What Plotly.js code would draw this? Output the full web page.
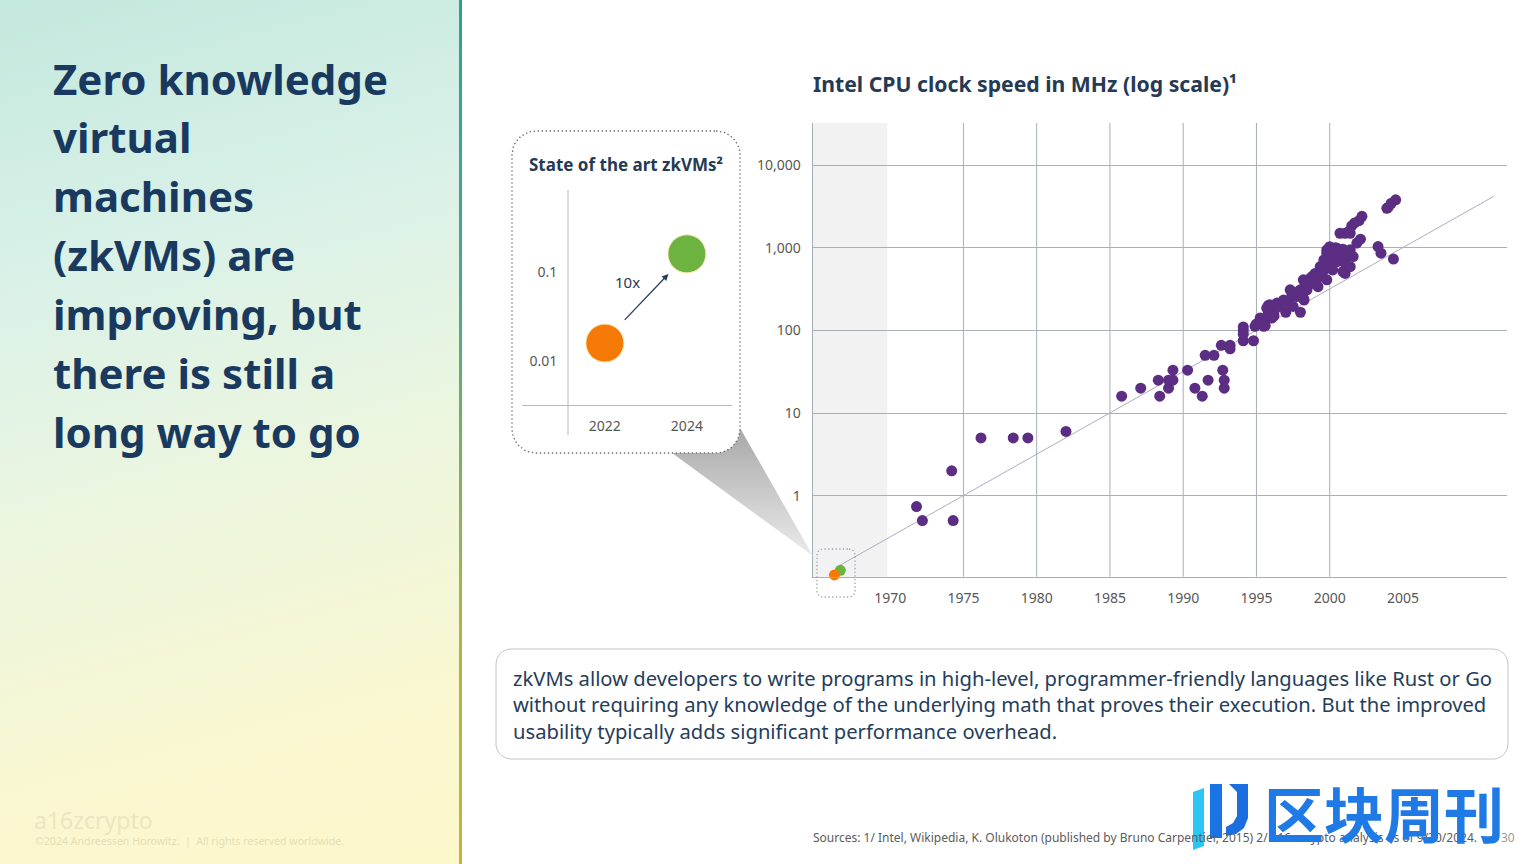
<!DOCTYPE html>
<html><head><meta charset="utf-8">
<script src="https://cdn.plot.ly/plotly-3.0.1.min.js"></script>
<style>
html,body{margin:0;padding:0;width:1536px;height:864px;overflow:hidden;background:#fff;}
#bgleft{position:absolute;left:0;top:0;width:459px;height:864px;background:linear-gradient(165deg,#c3e8dd 0%,#d9f1e8 28%,#ecf6df 55%,#f9f7d2 80%,#fdf8cb 100%);}
#divider{position:absolute;left:459px;top:0;width:3px;height:864px;background:linear-gradient(180deg,#2f9f93 0%,#4faa80 35%,#a2b84a 70%,#c4b53a 100%);}
#chart{position:absolute;left:0;top:0;width:1536px;height:864px;}
</style></head><body>
<div id="bgleft"></div><div id="divider"></div><div id="chart"></div>
<script>
const W = 1536, H = 864;
const FONT = 'Noto Sans, Open Sans, sans-serif';

// ---------- text ----------
const titleLines = ["Zero knowledge", "virtual", "machines", "(zkVMs) are", "improving, but", "there is still a", "long way to go"];
const chartTitle = "Intel CPU clock speed in MHz (log scale)¹";
const insetTitle = "State of the art zkVMs²";
const bodyLines = [
  "zkVMs allow developers to write programs in high-level, programmer-friendly languages like Rust or Go",
  "without requiring any knowledge of the underlying math that proves their execution. But the improved",
  "usability typically adds significant performance overhead."
];
const sourcesText = "Sources: 1/ Intel, Wikipedia, K. Olukoton (published by Bruno Carpentier, 2015) 2/ a16z crypto analysis as of 9/30/2024.";
const pageNumber = "30";
const logoText = "a16zcrypto";
const copyrightText = "©2024 Andreessen Horowitz.  |  All rights reserved worldwide.";
const watermarkText = "区块周刊";

// ---------- main chart data ----------
const cpuYear = [1971.8,1972.2,1974.2,1974.3,1976.2,1978.4,1979.4,1982.0,
  1985.8,1987.1,1988.3,1988.4,1989.0,1989.0,1989.3,1989.3,
  1990.3,1990.8,1991.3,1991.5,1991.7,1992.1,1992.6,1992.7,1992.8,1992.8,
  1993.2,1993.2,1994.1,1994.1,1994.1,1994.1,1994.8,
  1994.9,1995.0,1995.25,1995.4,1995.5,1995.6,1995.7,1995.8,1995.8,1995.8,1995.9,
  1996.05,1996.2,1996.2,1996.4,1996.4,1996.6,1996.85,
  1997.0,1997.0,1997.1,1997.3,1997.4,1997.5,1997.5,1997.75,1997.9,
  1998.0,1998.0,1998.1,1998.2,1998.2,1998.25,1998.3,1998.4,1998.45,1998.55,1998.6,1998.7,1998.8,1998.9,
  1999.0,1999.1,1999.2,1999.2,1999.35,1999.35,1999.5,1999.5,1999.6,1999.6,1999.8,1999.8,1999.8,1999.8,1999.9,
  2000.0,2000.0,2000.0,2000.1,2000.2,2000.3,2000.4,2000.5,2000.5,2000.6,2000.7,2000.7,2000.9,2000.9,
  2001.05,2001.05,2001.05,2001.2,2001.3,2001.4,2001.4,2001.4,2001.5,2001.6,2001.7,2001.85,
  2002.0,2002.1,2002.2,2003.3,2003.5,2003.9,2004.0,2004.2,2004.35,2004.5];
const cpuMHz = [0.74,0.5,2,0.5,5,5,5,6,
  16,20,25,16,20,25,25,33,
  33,20,16,50,25,50,66,33,25,20,
  66,60,75,90,100,110,75,
  112,120,141,128,112,114,186,200,160,150,204,
  141,150,169,214,200,195,233,
  166,200,204,310,257,266,195,257,300,
  166,310,283,246,410,233,338,366,310,355,400,430,450,372,
  490,410,338,450,467,592,500,600,713,550,410,566,860,944,733,
  1030,650,933,866,540,783,1000,990,680,900,820,1500,960,515,
  650,1500,490,783,1570,945,1500,590,1840,783,2000,1140,
  2130,1270,2400,1035,860,3000,3100,3460,730,3800];
const trendYear = [1966.6, 2011.2];
const trendMHz = [0.145, 4200];
const zkMainYear = [1966.6, 1966.2];   // green (2024), orange (2022)
const zkMainMHz = [0.125, 0.11];
const xTickVals = [1970, 1975, 1980, 1985, 1990, 1995, 2000, 2005];
const gridYears = [1975, 1980, 1985, 1990, 1995, 2000];
const yTickVals = [1, 10, 100, 1000, 10000];
const yTickText = ["1", "10", "100", "1,000", "10,000"];

// ---------- inset data ----------
const zkYear = [2022, 2024];
const zkMHz = [0.016, 0.16];
const zkColors = ["#f57a05", "#6db33f"];
const insetTickVals = [0.01, 0.1];
const insetTickText = ["0.01", "0.1"];
const arrowLabel = "10x";

// ---------- helpers ----------
const px = x => x / W;
const py = y => 1 - y / H;
function rr(x0, y0, x1, y1, r) {
  const xs = [], ys = [], n = 10;
  const c = [[x1 - r, y0 + r, -90, 0], [x1 - r, y1 - r, 0, 90], [x0 + r, y1 - r, 90, 180], [x0 + r, y0 + r, 180, 270]];
  for (const [cx, cy, a0, a1] of c) {
    for (let i = 0; i <= n; i++) {
      const a = (a0 + (a1 - a0) * i / n) * Math.PI / 180;
      xs.push(cx + r * Math.cos(a)); ys.push(cy + r * Math.sin(a));
    }
  }
  xs.push(xs[0]); ys.push(ys[0]);
  return {xs, ys};
}
const inset = rr(512, 131, 740, 453, 24);
const tbox = rr(496, 649, 1508, 759, 15);
const zbox = rr(817, 549, 855, 597, 6);

const traces = [
  {x: trendYear, y: trendMHz, xaxis: 'x', yaxis: 'y', mode: 'lines', line: {color: '#b1abc2', width: 1}, hoverinfo: 'skip'},
  {x: cpuYear, y: cpuMHz, xaxis: 'x', yaxis: 'y', mode: 'markers', marker: {size: 11, color: '#5b2d83'}},
  {x: zkMainYear, y: zkMainMHz, xaxis: 'x', yaxis: 'y', mode: 'markers', cliponaxis: false,
   marker: {size: 11, color: [zkColors[1], zkColors[0]]}},
  // callout wedge
  {x: [672, 716, 740, 813, 672], y: [453, 429, 428, 556, 453], xaxis: 'x2', yaxis: 'y2', mode: 'none', fill: 'toself',
   fillcolor: '#c8c8c8',
   fillgradient: {type: 'vertical', start: 428, stop: 556, colorscale: [[0, '#a8a8a8'], [1, '#ebebeb']]}, hoverinfo: 'skip'},
  // inset box
  {x: inset.xs, y: inset.ys, xaxis: 'x2', yaxis: 'y2', mode: 'lines', fill: 'toself', fillcolor: '#ffffff',
   line: {color: '#6f6f6f', width: 1.4, dash: '1.4px,2.6px'}, hoverinfo: 'skip'},
  // text box
  {x: tbox.xs, y: tbox.ys, xaxis: 'x2', yaxis: 'y2', mode: 'lines', line: {color: '#c4c4c4', width: 1}, hoverinfo: 'skip'},
  // small zk box on main chart
  {x: zbox.xs, y: zbox.ys, xaxis: 'x2', yaxis: 'y2', mode: 'lines', line: {color: '#9aa0b4', width: 1.3, dash: '1.3px,2.4px'}, hoverinfo: 'skip'},
  // watermark icon
  {x: [1193, 1204, 1204, 1193, 1193], y: [792, 788, 846, 850, 792], xaxis: 'x2', yaxis: 'y2', mode: 'none', fill: 'toself', fillcolor: '#2cc6f2', hoverinfo: 'skip'},
  {x: [1210, 1222, 1222, 1210, 1210], y: [784, 784, 838, 838, 784], xaxis: 'x2', yaxis: 'y2', mode: 'none', fill: 'toself', fillcolor: '#1b74e4', hoverinfo: 'skip'},
  {x: [1229, 1248, 1248, 1244, 1236, 1226, 1226, 1233, 1237, 1237, 1229], y: [784, 784, 818, 828, 834, 836, 827, 823, 816, 792, 784], xaxis: 'x2', yaxis: 'y2', mode: 'none', fill: 'toself', fillcolor: '#1b6ee0', hoverinfo: 'skip'},
  // inset dots
  {x: zkYear, y: zkMHz, xaxis: 'x3', yaxis: 'y3', mode: 'markers', cliponaxis: false,
   marker: {size: 38, color: zkColors, line: {color: '#fbe7b4', width: 1}}}
];

const annotations = [];
titleLines.forEach((t, i) => annotations.push({
  xref: 'paper', yref: 'paper', x: px(51), y: py(78 + i * 58.9), xanchor: 'left', yanchor: 'middle',
  text: '<b>' + t + '</b>', showarrow: false, font: {family: FONT, size: 42, color: '#193a5e'}
}));
annotations.push({xref: 'paper', yref: 'paper', x: px(811), y: py(84), xanchor: 'left', yanchor: 'middle',
  text: '<b>' + chartTitle + '</b>', showarrow: false, font: {family: FONT, size: 21.2, color: '#243a55'}});
annotations.push({xref: 'paper', yref: 'paper', x: px(527), y: py(164), xanchor: 'left', yanchor: 'middle',
  text: '<b>' + insetTitle + '</b>', showarrow: false, font: {family: FONT, size: 17, color: '#243a55'}});
annotations.push({xref: 'x3', yref: 'y3', x: 2023.55, y: Math.log10(0.095), axref: 'x3', ayref: 'y3',
  ax: 2022.45, ay: Math.log10(0.028), text: '', showarrow: true, arrowhead: 2, arrowsize: 1, arrowwidth: 1.3, arrowcolor: '#2a3d5c'});
annotations.push({xref: 'paper', yref: 'paper', x: px(627), y: py(282), xanchor: 'center', yanchor: 'middle',
  text: arrowLabel, showarrow: false, font: {family: FONT, size: 15, color: '#243a55'}});
annotations.push({xref: 'paper', yref: 'paper', x: px(511), y: py(704), xanchor: 'left', yanchor: 'middle', align: 'left',
  text: bodyLines.join('<br>'), showarrow: false, font: {family: FONT, size: 20.2, color: '#253d5b'}});
annotations.push({xref: 'paper', yref: 'paper', x: px(811), y: py(837), xanchor: 'left', yanchor: 'middle',
  text: sourcesText, showarrow: false, font: {family: FONT, size: 12, color: '#5c5c5c'}});
annotations.push({xref: 'paper', yref: 'paper', x: px(1517), y: py(837), xanchor: 'right', yanchor: 'middle',
  text: pageNumber, showarrow: false, font: {family: FONT, size: 12, color: '#9a9a9a'}});
annotations.push({xref: 'paper', yref: 'paper', x: px(32), y: py(820), xanchor: 'left', yanchor: 'middle',
  text: logoText, showarrow: false, font: {family: FONT, size: 23, color: '#ebe6c2'}});
annotations.push({xref: 'paper', yref: 'paper', x: px(33), y: py(841), xanchor: 'left', yanchor: 'middle',
  text: copyrightText, showarrow: false, font: {family: FONT, size: 10.6, color: '#e4dfb6'}});
annotations.push({xref: 'paper', yref: 'paper', x: px(1262), y: py(811), xanchor: 'left', yanchor: 'middle',
  text: '<b>' + watermarkText + '</b>', showarrow: false, font: {family: 'Noto Sans CJK SC', size: 60, color: '#1f7ae6'}});

const shapes = [
  {type: 'rect', xref: 'x', yref: 'y domain', x0: 1964.7, x1: 1969.8, y0: 0, y1: 1, fillcolor: '#f2f2f2', line: {width: 0}, layer: 'below'}
];
gridYears.forEach(g => shapes.push({type: 'line', xref: 'x', yref: 'y domain', x0: g, x1: g, y0: 0, y1: 1,
  line: {color: '#a6aeb8', width: 1}, layer: 'below'}));
shapes.push({type: 'line', xref: 'paper', yref: 'paper', x0: px(568), x1: px(568), y0: py(435), y1: py(190),
  line: {color: '#b8b8b8', width: 1}, layer: 'above'});

const tickFont = {family: FONT, size: 14, color: '#575757'};
const layout = {
  width: W, height: H, margin: {l: 0, r: 0, t: 0, b: 0}, autosize: false,
  paper_bgcolor: 'rgba(0,0,0,0)', plot_bgcolor: 'rgba(0,0,0,0)', showlegend: false,
  font: {family: FONT},
  xaxis: {domain: [812.5 / W, 1507 / W], range: [1964.7, 2012.1], anchor: 'y', tickvals: xTickVals,
    showgrid: false, zeroline: false, showline: true, linecolor: '#a6aeb8', linewidth: 1,
    ticks: 'outside', ticklen: 8, tickcolor: 'rgba(0,0,0,0)', tickfont: tickFont, fixedrange: true},
  yaxis: {domain: [1 - 576.7 / H, 1 - 123 / H], type: 'log', range: [-0.98, 4.51], anchor: 'x',
    tickvals: yTickVals, ticktext: yTickText, showgrid: true, gridcolor: '#a9b0b9', gridwidth: 1,
    zeroline: false, showline: true, linecolor: '#a6aeb8', linewidth: 1,
    ticks: 'outside', ticklen: 8, tickcolor: 'rgba(0,0,0,0)', tickfont: tickFont, fixedrange: true},
  xaxis2: {domain: [0, 1], range: [0, W], anchor: 'y2', visible: false, fixedrange: true},
  yaxis2: {domain: [0, 1], range: [H, 0], anchor: 'x2', visible: false, fixedrange: true},
  xaxis3: {domain: [522 / W, 732 / W], range: [2019.98, 2025.1], anchor: 'y3', tickvals: zkYear,
    showgrid: false, zeroline: false, showline: true, linecolor: '#b8b8b8', linewidth: 1,
    ticks: 'outside', ticklen: 8, tickcolor: 'rgba(0,0,0,0)', tickfont: tickFont, fixedrange: true},
  yaxis3: {domain: [1 - 405 / H, 1 - 190 / H], type: 'log', range: [-2.49, -0.08], anchor: 'free', position: 568 / W,
    tickvals: insetTickVals, ticktext: insetTickText, showgrid: false, zeroline: false, showline: false,
    ticks: 'outside', ticklen: 8, tickcolor: 'rgba(0,0,0,0)', tickfont: tickFont, fixedrange: true},
  shapes: shapes,
  annotations: annotations
};
Plotly.newPlot('chart', traces, layout, {displayModeBar: false, staticPlot: true});
</script></body></html>
